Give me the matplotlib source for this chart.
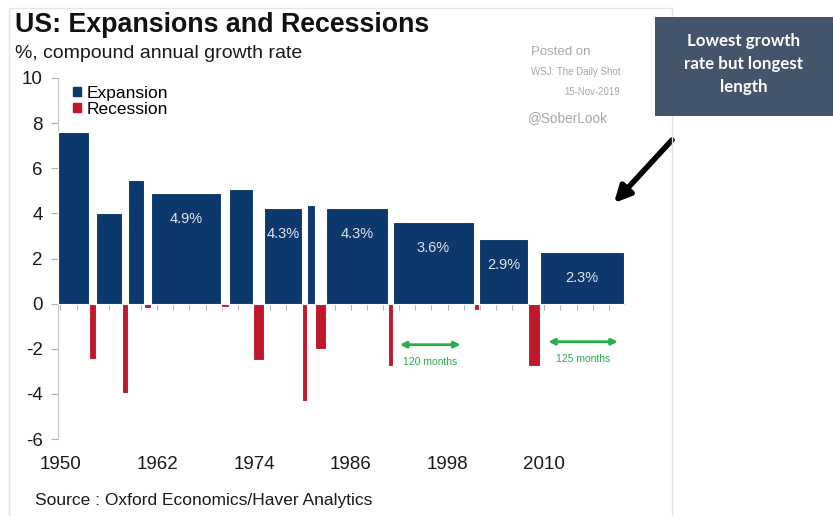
import matplotlib.pyplot as plt
from matplotlib.patches import Patch, Rectangle
import numpy as np

plt.rcParams['font.family'] = ['Liberation Sans', 'DejaVu Sans']
plt.rcParams['axes.unicode_minus'] = False

# Expansion periods (start/end as decimal years) and compound annual growth
exp_start = [1949.75, 1954.42, 1958.33, 1961.17, 1970.92, 1975.25, 1980.58, 1982.92, 1991.25, 2001.92, 2009.5]
exp_end = [1953.5, 1957.67, 1960.33, 1969.92, 1973.92, 1980.0, 1981.58, 1990.58, 2001.25, 2007.92, 2019.88]
exp_growth = [7.6, 4.0, 5.5, 4.9, 5.1, 4.25, 4.35, 4.25, 3.6, 2.87, 2.3]
exp_labels = ['', '', '', '4.9%', '', '4.3%', '', '4.3%', '3.6%', '2.9%', '2.3%']

# Recession periods
rec_start = [1953.5, 1957.67, 1960.33, 1969.92, 1973.92, 1980.0, 1981.58, 1990.58, 2001.25, 2007.92]
rec_end = [1954.42, 1958.33, 1961.17, 1970.92, 1975.25, 1980.58, 1982.92, 1991.25, 2001.92, 2009.5]
rec_growth = [-2.45, -3.95, -0.2, -0.15, -2.5, -4.3, -2.0, -2.75, -0.3, -2.75]

# Length annotations for the two longest expansions
span_from = [1992.1, 2010.5]
span_to = [1999.6, 2019.1]
span_y = [-1.82, -1.69]
span_text = ['120 months', '125 months']

year_ticks = [1950, 1962, 1974, 1986, 1998, 2010]

navy = '#0c386b'
red = '#c1172a'
green = '#27ae4a'
grey_txt = '#a8a8a8'

fig = plt.figure(figsize=(8.33, 5.16), dpi=100)
W, H = 833, 516

ax = fig.add_axes([58 / W, 1 - 439 / H, (625 - 58) / W, (439 - 78) / H])

exp_start = np.array(exp_start)
exp_end = np.array(exp_end)
rec_start = np.array(rec_start)
rec_end = np.array(rec_end)

ax.bar(exp_start, exp_growth, width=exp_end - exp_start, align='edge',
       color=navy, edgecolor='white', linewidth=0.8, zorder=3)
ax.bar(rec_start, rec_growth, width=rec_end - rec_start, align='edge',
       color=red, edgecolor='white', linewidth=0.8, zorder=3)

for s, e, g, lab in zip(exp_start, exp_end, exp_growth, exp_labels):
    if lab:
        ax.text((s + e) / 2, g - 1.15, lab, ha='center', va='center',
                color='#dfe5ee', fontsize=10.5, zorder=4)

for x0, x1, y, t in zip(span_from, span_to, span_y, span_text):
    ax.annotate('', xy=(x0, y), xytext=(x1, y),
                arrowprops=dict(arrowstyle='<|-|>', color=green, lw=2,
                                mutation_scale=9, shrinkA=0, shrinkB=0))
    ax.text((x0 + x1) / 2, y - 0.75, t, ha='center', va='center',
            color=green, fontsize=7.5)

ax.set_xlim(1949.7, 2020.0)
ax.set_ylim(-6, 10)
ax.set_yticks(np.arange(-6, 11, 2))
ax.set_xticks(year_ticks)
ax.set_xticks(np.arange(1950, 2020, 2), minor=True)

for side in ['top', 'right']:
    ax.spines[side].set_visible(False)
ax.spines['bottom'].set_position(('data', 0))
ax.spines['bottom'].set_color('#c4c4c4')
ax.spines['bottom'].set_zorder(1)
ax.spines['left'].set_color('#c4c4c4')

ax.tick_params(axis='y', length=5, color='#b0b0b0', labelsize=13.5,
               labelcolor='#1a1a1a', pad=6)
ax.tick_params(axis='x', which='both', length=4, color='#b0b0b0')
ax.tick_params(axis='x', which='major', labelsize=13.5,
               labelcolor='#1a1a1a', pad=106)

leg = ax.legend(handles=[Patch(color=navy), Patch(color=red)],
                labels=['Expansion', 'Recession'],
                loc='upper left', bbox_to_anchor=(64 / W, 1 - 77 / H),
                bbox_transform=fig.transFigure, frameon=False,
                fontsize=12.5, handlelength=0.5, handleheight=0.45,
                handletextpad=0.3, labelspacing=0.05, borderpad=0)

# titles and credits
fig.text(15 / W, 1 - 25 / H, 'US: Expansions and Recessions', fontsize=19.3,
         fontweight='bold', color='#111111', va='center', ha='left')
fig.text(15 / W, 1 - 53 / H, '%, compound annual growth rate', fontsize=14,
         color='#1a1a1a', va='center', ha='left')
fig.text(531 / W, 1 - 52 / H, 'Posted on', fontsize=9.5, color=grey_txt, va='center')
fig.text(531 / W, 1 - 72 / H, 'WSJ: The Daily Shot', fontsize=7, color=grey_txt, va='center')
fig.text(620 / W, 1 - 92 / H, '15-Nov-2019', fontsize=6.9, color=grey_txt,
         va='center', ha='right')
fig.text(528 / W, 1 - 118 / H, '@SoberLook', fontsize=9.8, color=grey_txt, va='center')
fig.text(35 / W, 1 - 500 / H, 'Source : Oxford Economics/Haver Analytics',
         fontsize=12.5, color='#1a1a1a', va='center')

# faint frame of the original chart image
fig.patches.append(Rectangle((9 / W, -0.01), (672 - 9) / W, 1 - 8 / H + 0.01,
                             transform=fig.transFigure, fill=False,
                             edgecolor='#e6e6e6', linewidth=1, zorder=0))

# callout box
fig.patches.append(Rectangle((655 / W, 1 - 116 / H), (833 - 655) / W, (116 - 17) / H,
                             transform=fig.transFigure, facecolor='#44546a',
                             edgecolor='none', zorder=5))
fig.text(744 / W, 1 - 64 / H, 'Lowest growth\nrate but longest\nlength',
         fontsize=12.2, fontweight='bold', color='white', ha='center', va='center',
         linespacing=1.55, family=['Lato', 'DejaVu Sans'], zorder=6)

ax.annotate('', xy=(614 / W, 1 - 203 / H), xytext=(672 / W, 1 - 140 / H),
            xycoords='figure fraction', textcoords='figure fraction',
            arrowprops=dict(arrowstyle='-|>', color='black', lw=4,
                            mutation_scale=24, shrinkA=0, shrinkB=0))

fig.savefig('out.png', dpi=100)
